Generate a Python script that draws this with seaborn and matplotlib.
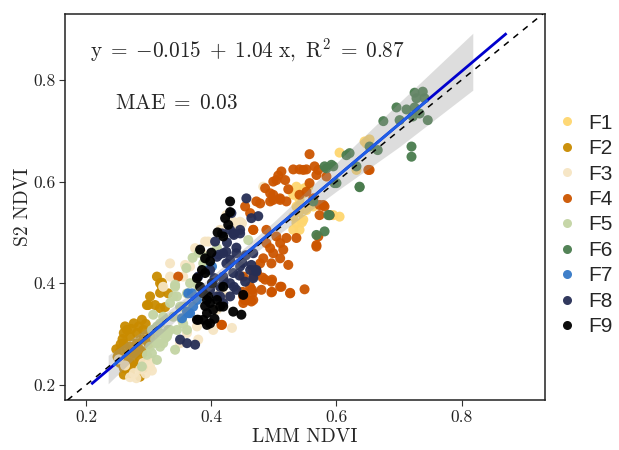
import numpy as np
import pandas as pd
import matplotlib
matplotlib.use("Agg")
import matplotlib.pyplot as plt
import seaborn as sns

groups = ["F1", "F2", "F3", "F4", "F5", "F6", "F7", "F8", "F9"]
colors = ["#FED66F", "#C98B00", "#F6E5C3", "#CC5500", "#C3D4A4",
          "#4A7C4E", "#3478C6", "#262E55", "#000000"]

f1_x = [0.605, 0.648, 0.536, 0.549, 0.531, 0.541, 0.536, 0.531, 0.536, 0.531, 0.541, 0.605,
        0.595, 0.563, 0.645, 0.653, 0.555, 0.547, 0.547, 0.632, 0.552, 0.545, 0.540]
f1_y = [0.657, 0.675, 0.590, 0.587, 0.574, 0.564, 0.551, 0.531, 0.518, 0.505, 0.505, 0.531,
        0.534, 0.551, 0.679, 0.683, 0.590, 0.577, 0.525, 0.623, 0.544, 0.520, 0.540]

f2_x = [0.313, 0.318, 0.321, 0.331, 0.302, 0.297, 0.318, 0.289, 0.265, 0.276, 0.260, 0.270,
        0.281, 0.291, 0.260, 0.270, 0.281, 0.291, 0.302, 0.254, 0.265, 0.276, 0.286, 0.297,
        0.260, 0.270, 0.281, 0.291, 0.260, 0.270, 0.286, 0.254, 0.258, 0.265, 0.250, 0.285,
        0.275, 0.321, 0.318, 0.299, 0.310, 0.326, 0.268, 0.279, 0.262, 0.272, 0.284, 0.295,
        0.255, 0.290, 0.300, 0.248]
f2_y = [0.413, 0.400, 0.393, 0.380, 0.374, 0.357, 0.351, 0.328, 0.308, 0.321, 0.302, 0.295,
        0.302, 0.308, 0.282, 0.275, 0.282, 0.289, 0.295, 0.266, 0.256, 0.262, 0.249, 0.256,
        0.233, 0.243, 0.236, 0.233, 0.220, 0.223, 0.216, 0.243, 0.290, 0.270, 0.255, 0.270,
        0.245, 0.401, 0.381, 0.357, 0.357, 0.353, 0.228, 0.262, 0.315, 0.310, 0.315, 0.320,
        0.280, 0.265, 0.280, 0.270]

f3_x = [0.334, 0.366, 0.390, 0.374, 0.414, 0.446, 0.424, 0.440, 0.355, 0.334, 0.323, 0.403,
        0.409, 0.377, 0.379, 0.361, 0.350, 0.302, 0.286, 0.276, 0.302, 0.291, 0.414, 0.424,
        0.435, 0.395, 0.385, 0.449, 0.483, 0.358, 0.433, 0.270, 0.280, 0.295, 0.305, 0.262,
        0.252]
f3_y = [0.439, 0.433, 0.482, 0.469, 0.505, 0.521, 0.534, 0.515, 0.413, 0.413, 0.393, 0.308,
        0.348, 0.315, 0.289, 0.302, 0.282, 0.249, 0.230, 0.223, 0.236, 0.243, 0.380, 0.374,
        0.521, 0.482, 0.459, 0.518, 0.590, 0.436, 0.312, 0.215, 0.213, 0.222, 0.228, 0.238,
        0.250]

f4_x = [0.557, 0.512, 0.531, 0.541, 0.552, 0.565, 0.568, 0.504, 0.518, 0.486, 0.494, 0.499,
        0.510, 0.523, 0.557, 0.552, 0.541, 0.563, 0.472, 0.494, 0.520, 0.454, 0.462, 0.573,
        0.581, 0.573, 0.467, 0.488, 0.504, 0.520, 0.536, 0.488, 0.494, 0.510, 0.499, 0.510,
        0.523, 0.483, 0.478, 0.496, 0.467, 0.451, 0.467, 0.486, 0.496, 0.512, 0.549, 0.526,
        0.496, 0.480, 0.462, 0.451, 0.451, 0.464, 0.347, 0.416, 0.568, 0.589, 0.653, 0.651,
        0.579, 0.584, 0.547, 0.478, 0.467, 0.515, 0.571, 0.568, 0.450, 0.457, 0.466, 0.454,
        0.482, 0.497, 0.510, 0.497, 0.526, 0.465, 0.454, 0.467, 0.417, 0.473, 0.499, 0.510,
        0.499, 0.571, 0.507]
f4_y = [0.654, 0.620, 0.624, 0.624, 0.624, 0.630, 0.613, 0.603, 0.603, 0.587, 0.577, 0.574,
        0.567, 0.585, 0.597, 0.580, 0.574, 0.567, 0.561, 0.561, 0.561, 0.551, 0.538, 0.554,
        0.551, 0.534, 0.505, 0.505, 0.492, 0.489, 0.489, 0.479, 0.469, 0.479, 0.459, 0.449,
        0.436, 0.449, 0.439, 0.439, 0.426, 0.413, 0.413, 0.407, 0.403, 0.393, 0.388, 0.380,
        0.382, 0.387, 0.393, 0.374, 0.361, 0.364, 0.413, 0.318, 0.475, 0.534, 0.623, 0.623,
        0.554, 0.610, 0.623, 0.557, 0.505, 0.466, 0.492, 0.472, 0.383, 0.367, 0.381, 0.367,
        0.411, 0.407, 0.393, 0.383, 0.381, 0.387, 0.367, 0.367, 0.318, 0.420, 0.600, 0.564,
        0.564, 0.623, 0.612]

f5_x = [0.459, 0.409, 0.393, 0.387, 0.395, 0.377, 0.379, 0.342, 0.345, 0.334, 0.366, 0.361,
        0.350, 0.339, 0.323, 0.307, 0.318, 0.305, 0.318, 0.329, 0.313, 0.302, 0.297, 0.353,
        0.345, 0.334, 0.361, 0.323, 0.342, 0.339, 0.358, 0.313, 0.331, 0.326, 0.318, 0.305,
        0.313, 0.289, 0.342, 0.360, 0.370, 0.380, 0.330, 0.310, 0.355]
f5_y = [0.485, 0.469, 0.452, 0.439, 0.423, 0.410, 0.393, 0.393, 0.374, 0.361, 0.400, 0.380,
        0.354, 0.334, 0.334, 0.338, 0.321, 0.308, 0.302, 0.295, 0.282, 0.275, 0.259, 0.328,
        0.308, 0.308, 0.308, 0.282, 0.397, 0.374, 0.354, 0.315, 0.308, 0.292, 0.275, 0.262,
        0.249, 0.236, 0.269, 0.430, 0.450, 0.460, 0.300, 0.290, 0.320]

f6_x = [0.584, 0.595, 0.616, 0.637, 0.568, 0.581, 0.587, 0.597, 0.725, 0.738, 0.728, 0.741,
        0.696, 0.712, 0.725, 0.733, 0.701, 0.675, 0.746, 0.722, 0.720, 0.720, 0.637, 0.581,
        0.592, 0.653, 0.621, 0.632, 0.600, 0.563, 0.589, 0.666]
f6_y = [0.626, 0.630, 0.652, 0.589, 0.495, 0.502, 0.534, 0.597, 0.775, 0.777, 0.764, 0.764,
        0.746, 0.742, 0.746, 0.734, 0.721, 0.719, 0.721, 0.728, 0.669, 0.649, 0.590, 0.630,
        0.633, 0.669, 0.656, 0.630, 0.597, 0.561, 0.534, 0.662]

f7_x = [0.401, 0.395, 0.369, 0.377, 0.361, 0.366, 0.353, 0.371, 0.363, 0.363]
f7_y = [0.433, 0.426, 0.380, 0.367, 0.344, 0.341, 0.331, 0.354, 0.380, 0.341]

f8_x = [0.456, 0.475, 0.464, 0.432, 0.446, 0.430, 0.406, 0.419, 0.440, 0.409, 0.424, 0.435,
        0.419, 0.401, 0.414, 0.430, 0.440, 0.409, 0.419, 0.446, 0.462, 0.467, 0.350, 0.361,
        0.374, 0.398, 0.379, 0.417, 0.436, 0.446, 0.412, 0.424, 0.430, 0.454, 0.436, 0.414,
        0.430, 0.472, 0.464, 0.398, 0.467, 0.435, 0.472, 0.425, 0.440, 0.450, 0.405, 0.420,
        0.445, 0.455]
f8_y = [0.567, 0.532, 0.528, 0.538, 0.498, 0.505, 0.482, 0.459, 0.459, 0.452, 0.439, 0.420,
        0.413, 0.400, 0.393, 0.400, 0.387, 0.374, 0.361, 0.433, 0.426, 0.410, 0.289, 0.282,
        0.279, 0.426, 0.413, 0.498, 0.495, 0.505, 0.456, 0.462, 0.446, 0.403, 0.393, 0.374,
        0.374, 0.426, 0.436, 0.387, 0.459, 0.498, 0.423, 0.480, 0.470, 0.440, 0.410, 0.405,
        0.415, 0.455]

f9_x = [0.430, 0.422, 0.427, 0.419, 0.382, 0.390, 0.398, 0.385, 0.377, 0.382, 0.387, 0.393,
        0.398, 0.414, 0.393, 0.387, 0.398, 0.377, 0.435, 0.448, 0.451, 0.419, 0.390, 0.401,
        0.395, 0.409, 0.403, 0.419, 0.379, 0.393, 0.410, 0.430, 0.400, 0.405, 0.390]
f9_y = [0.561, 0.528, 0.515, 0.492, 0.466, 0.449, 0.443, 0.426, 0.410, 0.393, 0.380, 0.367,
        0.361, 0.354, 0.341, 0.328, 0.321, 0.328, 0.344, 0.338, 0.377, 0.393, 0.420, 0.400,
        0.374, 0.367, 0.348, 0.354, 0.328, 0.318, 0.500, 0.540, 0.460, 0.330, 0.355]

# fitted model
intercept = -0.015
slope = 1.04
fit_x_full = [0.208, 0.872]
fit_x_data = [0.243, 0.746]
# confidence ribbon
ribbon_x = [0.235, 0.30, 0.40, 0.50, 0.60, 0.70, 0.818]
ribbon_lo = [0.202, 0.279, 0.389, 0.489, 0.581, 0.668, 0.780]
ribbon_hi = [0.258, 0.315, 0.413, 0.521, 0.637, 0.755, 0.892]

xs = [f1_x, f2_x, f3_x, f4_x, f5_x, f6_x, f7_x, f8_x, f9_x]
ys = [f1_y, f2_y, f3_y, f4_y, f5_y, f6_y, f7_y, f8_y, f9_y]
df = pd.concat([pd.DataFrame({"x": a, "y": b, "g": g}) for a, b, g in zip(xs, ys, groups)],
               ignore_index=True)

sns.set_style("white")
plt.rcParams["font.family"] = ["cmr10"]
plt.rcParams["mathtext.fontset"] = "cm"
plt.rcParams["axes.unicode_minus"] = False

fig = plt.figure(figsize=(6.19, 4.5), dpi=100)
ax = fig.add_axes([0.105, 0.111, 0.775, 0.858])

sns.scatterplot(data=df, x="x", y="y", hue="g", hue_order=groups,
                palette=dict(zip(groups, colors)), s=52, alpha=0.95,
                edgecolor="none", linewidth=0, ax=ax, zorder=2)

ax.fill_between(ribbon_x, ribbon_lo, ribbon_hi, color="#999999", alpha=0.33,
                linewidth=0, zorder=3)
ax.axline((0.5, 0.5), slope=1, color="black", lw=1.1, ls=(0, (4, 4)), zorder=4)
fx = np.array(fit_x_full)
ax.plot(fx, intercept + slope * fx, color="#0000CD", lw=2.0, zorder=5,
        solid_capstyle="butt")
dx = np.array(fit_x_data)
ax.plot(dx, intercept + slope * dx, color="#1F5FE6", lw=2.0, zorder=6,
        solid_capstyle="butt")

ax.set_xlim(0.166, 0.933)
ax.set_ylim(0.17, 0.93)
ax.set_xticks([0.2, 0.4, 0.6, 0.8])
ax.set_yticks([0.2, 0.4, 0.6, 0.8])
ax.set_xticklabels(["0.2", "0.4", "0.6", "0.8"])
ax.set_yticklabels(["0.2", "0.4", "0.6", "0.8"])
ax.tick_params(axis="both", direction="out", length=4, width=0.8, color="#333333",
               labelsize=12.5, labelcolor="#222222", pad=3, bottom=True, left=True)
for sp in ax.spines.values():
    sp.set_color("#222222")
    sp.set_linewidth(1.1)
ax.set_xlabel("LMM NDVI", fontsize=14, labelpad=2)
ax.set_ylabel("S2 NDVI", fontsize=14, labelpad=1)

ax.text(0.052, 0.905,
        r"$\mathrm{y}\;=\;{-}0.015\;+\;1.04\ \mathrm{x},\ \mathrm{R}^{2}\;=\;0.87$",
        transform=ax.transAxes, fontsize=15.3, va="center", ha="left")
ax.text(0.104, 0.77, r"$\mathrm{MAE}\;=\;0.03$", transform=ax.transAxes,
        fontsize=15.3, va="center", ha="left")

handles, labels = ax.get_legend_handles_labels()
if ax.legend_:
    ax.legend_.remove()
leg = fig.legend(handles, labels, loc="center left", bbox_to_anchor=(0.882, 0.50),
                 frameon=False, prop={"family": ["Liberation Sans", "DejaVu Sans"], "size": 15},
                 labelspacing=0.31, handletextpad=0.45, handlelength=1.2, markerscale=0.9,
                 borderaxespad=0)

fig.savefig("out.png", dpi=100)
